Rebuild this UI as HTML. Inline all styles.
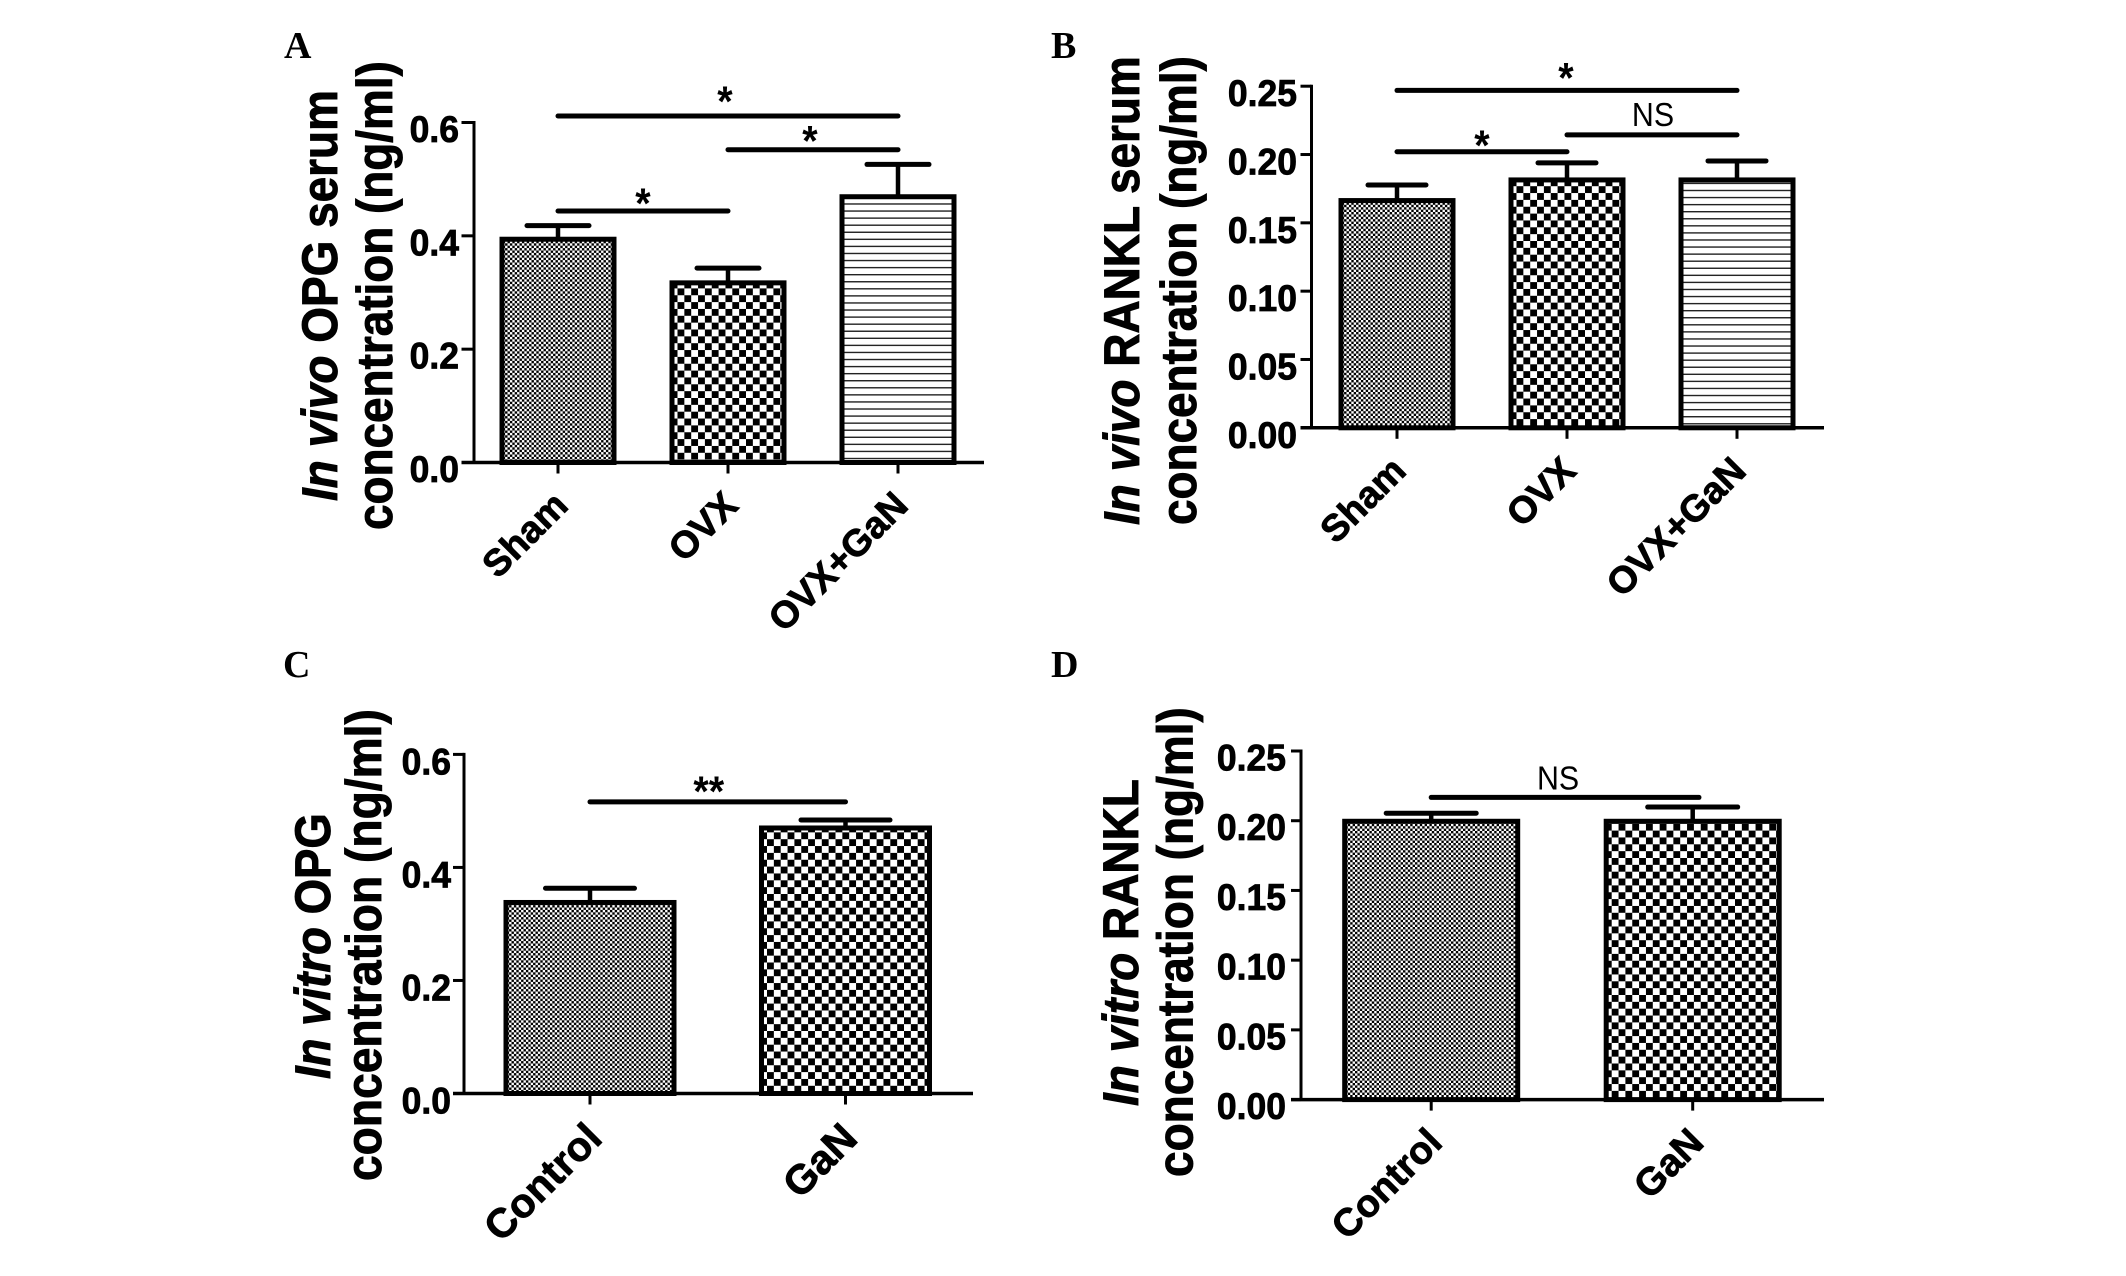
<!DOCTYPE html>
<html lang="en">
<head>
<meta charset="utf-8">
<title>OPG and RANKL concentrations</title>
<style>
html,body{margin:0;padding:0;background:#fff;}
svg{display:block;}
text{font-family:"Liberation Sans",Arial,sans-serif;fill:#000;}
</style>
</head>
<body>
<svg id="figure" xmlns="http://www.w3.org/2000/svg" width="2126" height="1276" viewBox="0 0 2126 1276">
<rect width="2126" height="1276" fill="#fff"/>
<defs id="defs"></defs>
</svg>
<script>
// ---- Panel A data ----
const panelACategories = ['Sham', 'OVX', 'OVX+GaN'];
const panelAValues = [0.394, 0.317, 0.469];
const panelAUpper = [0.418, 0.343, 0.526];
const panelATicks = [0, 0.2, 0.4, 0.6];
const panelATickLabels = ['0.0', '0.2', '0.4', '0.6'];
const panelABracketFrom = [0, 1, 0];
const panelABracketTo = [2, 2, 1];
const panelABracketLevel = [0.6115, 0.552, 0.4438];
const panelABracketText = ['*', '*', '*'];

// ---- Panel B data ----
const panelBCategories = ['Sham', 'OVX', 'OVX+GaN'];
const panelBValues = [0.1663, 0.1814, 0.1814];
const panelBUpper = [0.1777, 0.1939, 0.1953];
const panelBTicks = [0, 0.05, 0.10, 0.15, 0.20, 0.25];
const panelBTickLabels = ['0.00', '0.05', '0.10', '0.15', '0.20', '0.25'];
const panelBBracketFrom = [0, 1, 0];
const panelBBracketTo = [2, 2, 1];
const panelBBracketLevel = [0.2469, 0.2144, 0.202];
const panelBBracketText = ['*', 'NS', '*'];

// ---- Panel C data ----
const panelCCategories = ['Control', 'GaN'];
const panelCValues = [0.338, 0.4698];
const panelCUpper = [0.3631, 0.4839];
const panelCTicks = [0, 0.2, 0.4, 0.6];
const panelCTickLabels = ['0.0', '0.2', '0.4', '0.6'];
const panelCBracketFrom = [0];
const panelCBracketTo = [1];
const panelCBracketLevel = [0.516];
const panelCBracketText = ['**'];

// ---- Panel D data ----
const panelDCategories = ['Control', 'GaN'];
const panelDValues = [0.1996, 0.1996];
const panelDUpper = [0.2054, 0.2098];
const panelDTicks = [0, 0.05, 0.10, 0.15, 0.20, 0.25];
const panelDTickLabels = ['0.00', '0.05', '0.10', '0.15', '0.20', '0.25'];
const panelDBracketFrom = [0];
const panelDBracketTo = [1.024];
const panelDBracketLevel = [0.2167];
const panelDBracketText = ['NS'];

const NS = 'http://www.w3.org/2000/svg';
const svg = document.getElementById('figure');
const defs = document.getElementById('defs');

function make(tag, attrs, parent) {
  const el = document.createElementNS(NS, tag);
  for (const k in attrs) el.setAttribute(k, attrs[k]);
  (parent || svg).appendChild(el);
  return el;
}

// Place real text, horizontally squeezed by sx or to an exact target length.
function placeText(el, x, y, angle, sx, target) {
  let s = sx || 1;
  if (target) s = target / el.getComputedTextLength();
  el.setAttribute('transform', 'translate(' + x + ' ' + y + ') rotate(' + angle + ') scale(' + s + ' 1)');
}

function makePattern(id, kind, ox, oy) {
  const size = kind === 'fine' ? 4.8 : kind === 'coarse' ? 13.7 : 7.07;
  const p = make('pattern', {id: id, patternUnits: 'userSpaceOnUse', x: ox, y: oy,
    width: kind === 'lines' ? 20 : size, height: size}, defs);
  make('rect', {x: 0, y: 0, width: kind === 'lines' ? 20 : size, height: size, fill: '#fff'}, p);
  if (kind === 'lines') {
    make('rect', {x: 0, y: 0, width: 20, height: 1.4, fill: '#222'}, p);
  } else {
    const c = size / 2;
    make('rect', {x: 0, y: 0, width: c, height: c, fill: '#000'}, p);
    make('rect', {x: c, y: c, width: c, height: c, fill: '#000'}, p);
  }
}

function drawPanel(cfg) {
  const g = make('g', {});
  
  

  const yScale = v => cfg.y0 - (v / cfg.yMax) * cfg.yLen;
  const xScale = i => cfg.x1 + i * cfg.step;

  // panel letter
  const letter = make('text', {x: cfg.letterX, y: cfg.letterY, 'font-size': 38, 'font-weight': 'bold',
    style: 'font-family:"Liberation Serif",serif'}, g);
  letter.textContent = cfg.key.toUpperCase();
  
  

  // y title, two lines
  const t1 = make('text', {'font-size': 50, 'font-weight': 'bold', 'text-anchor': 'start',
    stroke: '#000', 'stroke-width': 0.9}, g);
  const it = make('tspan', {'font-style': 'italic'}, t1);
  it.textContent = cfg.titleItalic;
  const rest = make('tspan', {}, t1);
  rest.textContent = cfg.titleRest;
  
  
  placeText(t1, cfg.title1X, cfg.title1Y, -90, 0, cfg.title1Len);

  const t2 = make('text', {'font-size': 50, 'font-weight': 'bold', 'text-anchor': 'start',
    stroke: '#000', 'stroke-width': 0.9}, g);
  t2.textContent = 'concentration (ng/ml)';
  
  
  placeText(t2, cfg.title2X, cfg.title2Y, -90, 0, cfg.title2Len);

  // y ticks and labels
  cfg.ticks.forEach((v, i) => {
    const y = yScale(v);
    const tick = make('line', {x1: cfg.x0 - cfg.tickLen, x2: cfg.x0, y1: y, y2: y, stroke: '#000', 'stroke-width': 3}, g);
    
    
    const lab = make('text', {'font-size': 37, 'font-weight': 'bold', 'text-anchor': 'end',
      stroke: '#000', 'stroke-width': 0.8}, g);
    lab.textContent = cfg.tickLabels[i];
    
    
    placeText(lab, cfg.labelRight, y + cfg.labelDrop, 0, 0.96);
  });

  // error bars, then bars
  cfg.categories.forEach((name, i) => {
    const cx = xScale(i);
    const top = yScale(cfg.values[i]);
    const up = yScale(cfg.upper[i]);
    const stem = make('line', {x1: cx, x2: cx, y1: top, y2: up, stroke: '#000', 'stroke-width': 4.5}, g);
    
    
    const cap = make('line', {x1: cx - cfg.capHalf, x2: cx + cfg.capHalf, y1: up, y2: up, stroke: '#000',
      'stroke-width': 5, 'stroke-linecap': 'round'}, g);
    
    

    const pid = 'fill-' + cfg.key + '-' + i;
    const phase = cfg.fills[i] === 'lines' ? -4.7 : cfg.patternDy;
    makePattern(pid, cfg.fills[i], cx - cfg.barHalf + 5.5, cfg.y0 + phase);
    const bar = make('rect', {x: cx - cfg.barHalf, y: top, width: 2 * cfg.barHalf, height: cfg.y0 - top,
      fill: 'url(#' + pid + ')', stroke: '#000', 'stroke-width': 5}, g);
    
    

    const xt = make('line', {x1: cx, x2: cx, y1: cfg.y0, y2: cfg.y0 + 11, stroke: '#000', 'stroke-width': 3}, g);
    
    

    const xl = make('text', {'font-size': cfg.xFont, 'font-weight': 'bold', 'text-anchor': 'end',
      stroke: '#000', 'stroke-width': 0.8}, g);
    xl.textContent = name;
    
    
    placeText(xl, cx + cfg.xLabDx, cfg.y0 + cfg.xLabDy, -45, 1);
  });

  // axes
  const ya = make('line', {x1: cfg.x0, x2: cfg.x0, y1: yScale(cfg.yMax) - 1.5, y2: cfg.y0, stroke: '#000', 'stroke-width': 3}, g);
  
  
  const xa = make('line', {x1: cfg.x0 - cfg.tickLen, x2: cfg.xEnd, y1: cfg.y0, y2: cfg.y0, stroke: '#000', 'stroke-width': 3.5}, g);
  
  

  // significance brackets
  cfg.brFrom.forEach((from, i) => {
    const y = yScale(cfg.brLevel[i]);
    const xa1 = xScale(from);
    const xa2 = xScale(cfg.brTo[i]);
    const br = make('line', {x1: xa1, x2: xa2, y1: y, y2: y, stroke: '#000', 'stroke-width': 5, 'stroke-linecap': 'round'}, g);
    
    
    const isNS = cfg.brText[i] === 'NS';
    const mark = make('text', {'font-size': isNS ? 33 : 43, 'text-anchor': 'middle',
      'font-weight': isNS ? 'normal' : 'bold'}, g);
    mark.textContent = cfg.brText[i];
    
    
    placeText(mark, (xa1 + xa2) / 2 + cfg.brDx[i], y + cfg.brDy[i], 0, isNS ? 0.92 : 0.92);
  });
}

drawPanel({
  key: 'a', letterX: 284, letterY: 58, patternDy: 4,
  x0: 474, y0: 462.5, yLen: 340, yMax: 0.6, tickLen: 12.5, xEnd: 984,
  x1: 558, step: 170, barHalf: 56, capHalf: 31,
  labelRight: 459, labelDrop: 19.5, xFont: 37.5, xLabDx: 12, xLabDy: 45,
  title1X: 337, title1Y: 501, title1Len: 411, titleItalic: 'In vivo', titleRest: ' OPG serum',
  title2X: 392, title2Y: 530, title2Len: 469,
  categories: panelACategories, values: panelAValues, upper: panelAUpper,
  ticks: panelATicks, tickLabels: panelATickLabels,
  fills: ['fine', 'coarse', 'lines'],
  brFrom: panelABracketFrom, brTo: panelABracketTo, brLevel: panelABracketLevel, brText: panelABracketText,
  brDx: [-3, -3, 0], brDy: [0, 6, 7]
});

drawPanel({
  key: 'b', letterX: 1051, letterY: 58, patternDy: 5,
  x0: 1311.5, y0: 427.8, yLen: 341.6, yMax: 0.25, tickLen: 11, xEnd: 1824,
  x1: 1397, step: 170, barHalf: 56, capHalf: 29,
  labelRight: 1297, labelDrop: 20, xFont: 37.5, xLabDx: 11, xLabDy: 45,
  title1X: 1139, title1Y: 525, title1Len: 469, titleItalic: 'In vivo', titleRest: ' RANKL serum',
  title2X: 1196, title2Y: 525, title2Len: 469,
  categories: panelBCategories, values: panelBValues, upper: panelBUpper,
  ticks: panelBTicks, tickLabels: panelBTickLabels,
  fills: ['fine', 'coarse', 'lines'],
  brFrom: panelBBracketFrom, brTo: panelBBracketTo, brLevel: panelBBracketLevel, brText: panelBBracketText,
  brDx: [-1, 1, 0], brDy: [2, -9, 8]
});

drawPanel({
  key: 'c', letterX: 283, letterY: 677, patternDy: 6,
  x0: 464, y0: 1093.5, yLen: 339.1, yMax: 0.6, tickLen: 11, xEnd: 973,
  x1: 590, step: 255.5, barHalf: 84, capHalf: 44.5,
  labelRight: 451, labelDrop: 20, xFont: 41, xLabDx: 14, xLabDy: 47,
  title1X: 330, title1Y: 1079, title1Len: 266, titleItalic: 'In vitro', titleRest: ' OPG',
  title2X: 381, title2Y: 1181, title2Len: 472,
  categories: panelCCategories, values: panelCValues, upper: panelCUpper,
  ticks: panelCTicks, tickLabels: panelCTickLabels,
  fills: ['fine', 'coarse'],
  brFrom: panelCBracketFrom, brTo: panelCBracketTo, brLevel: panelCBracketLevel, brText: panelCBracketText,
  brDx: [-9], brDy: [4]
});

drawPanel({
  key: 'd', letterX: 1051, letterY: 677, patternDy: 5,
  x0: 1301, y0: 1099.6, yLen: 348.6, yMax: 0.25, tickLen: 10, xEnd: 1824,
  x1: 1431.2, step: 261.5, barHalf: 86.5, capHalf: 45,
  labelRight: 1286, labelDrop: 19.5, xFont: 38.5, xLabDx: 13, xLabDy: 45,
  title1X: 1138, title1Y: 1106, title1Len: 327, titleItalic: 'In vitro', titleRest: ' RANKL',
  title2X: 1192.5, title2Y: 1177, title2Len: 470,
  categories: panelDCategories, values: panelDValues, upper: panelDUpper,
  ticks: panelDTicks, tickLabels: panelDTickLabels,
  fills: ['fine', 'coarse'],
  brFrom: panelDBracketFrom, brTo: panelDBracketTo, brLevel: panelDBracketLevel, brText: panelDBracketText,
  brDx: [-7], brDy: [-8]
});
</script>
</body>
</html>
